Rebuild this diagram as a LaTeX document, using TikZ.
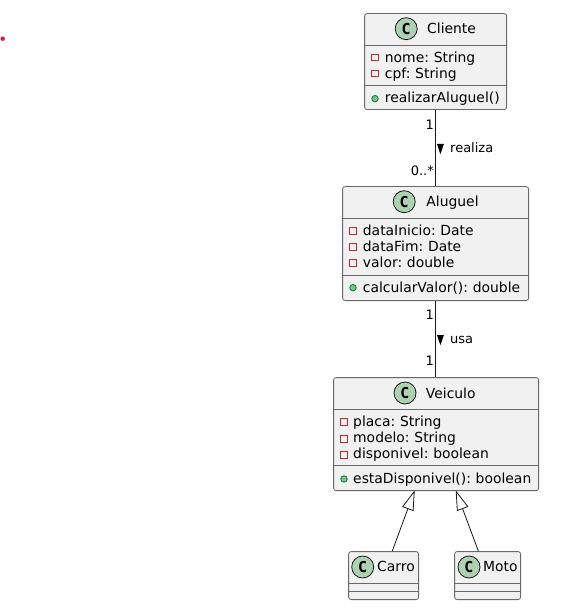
\documentclass[tikz,border=0pt]{standalone}
\usepackage{fontspec}
\setmainfont[WordSpace=0.75]{DejaVu Sans}
\newfontfamily\circfont{DejaVu Sans Mono}
\usetikzlibrary{arrows.meta}
\definecolor{boxfill}{HTML}{F1F1F1}
\definecolor{boxline}{HTML}{181818}
\definecolor{badge}{HTML}{ADD1B2}
\definecolor{privred}{HTML}{C82930}
\definecolor{pubfill}{HTML}{84BE84}
\definecolor{publine}{HTML}{038048}
\definecolor{dotred}{HTML}{E2143C}
\tikzset{
  x=1pt,y=-1pt,
  classbox/.style={draw=boxline!65,fill=boxfill,line width=0.8pt,rounded corners=2.5pt,inner sep=0pt,anchor=north west},
  sep/.style={draw=boxline!65,line width=0.8pt},
  badgec/.style={circle,draw=boxline,fill=badge,line width=0.8pt,minimum size=22pt,inner sep=0pt,font=\circfont\bfseries\fontsize{15}{15}\selectfont},
  title/.style={anchor=base west,inner sep=0pt,font=\fontsize{13.9}{14}\selectfont,text=black},
  mem/.style={anchor=base west,inner sep=0pt,font=\fontsize{13.9}{14}\selectfont,text=black},
  lab/.style={anchor=base west,inner sep=0pt,font=\fontsize{13}{13}\selectfont,text=black},
  mult/.style={anchor=base east,inner sep=0pt,font=\fontsize{13}{13}\selectfont,text=black},
  priv/.style={draw=privred,line width=0.9pt,minimum size=6.5pt,inner sep=0pt,rectangle},
  pub/.style={draw=publine,fill=pubfill,line width=0.8pt,circle,minimum size=6.5pt,inner sep=0pt},
  conn/.style={draw=boxline,line width=0.9pt},
  inherit/.style={draw=boxline,line width=0.8pt,-{Triangle[open,length=20pt,width=12pt,fill=white]}},
  dirmark/.style={fill=black,draw=none},
}
\begin{document}
\begin{tikzpicture}
\useasboundingbox (0.3,0.3) rectangle (567.3,612.3);
\fill[white] (0.3,0.3) rectangle (567.3,612.3);
\node[circle,fill=dotred,minimum size=4.4pt,inner sep=0pt] (dot) at (3,39) {};

% boxes
\node[classbox,minimum width=142pt,minimum height=96pt] (cliente) at (364.5,13.5) {};
\node[classbox,minimum width=186pt,minimum height=114pt] (aluguel) at (342.5,186.5) {};
\node[classbox,minimum width=205pt,minimum height=113pt] (veiculo) at (333.5,377.5) {};
\node[classbox,minimum width=70pt,minimum height=48pt] (carro) at (348.5,551.5) {};
\node[classbox,minimum width=66pt,minimum height=48pt] (moto) at (454.5,551.5) {};

\draw[conn] (cliente.south) -- (aluguel.north);
\draw[conn] (aluguel.south) -- (aluguel.south |- veiculo.north);

\coordinate (carroTop) at (392.5,551.5);
\coordinate (carroTip) at (415,490.5);
\coordinate (motoTop) at (478.7,551.5);
\coordinate (motoTip) at (456,490.5);
\draw[inherit] (carroTop) -- (carroTip);
\draw[inherit] (motoTop) -- (motoTip);

% separators
\draw[sep] (364.5,45.5) -- (506.5,45.5) (364.5,85.5) -- (506.5,85.5);
\draw[sep] (342.5,218.5) -- (528.5,218.5) (342.5,275.5) -- (528.5,275.5);
\draw[sep] (333.5,409.5) -- (538.5,409.5) (333.5,465.5) -- (538.5,465.5);
\draw[sep] (348.5,583.5) -- (418.5,583.5) (348.5,591.5) -- (418.5,591.5);
\draw[sep] (454.5,583.5) -- (520.5,583.5) (454.5,591.5) -- (520.5,591.5);

% Cliente
\node[badgec] (cC) at (406.5,29) {C};
\node[title] (tC) at (427.3,34) {Cliente};
\node[priv] (p1) at (375.3,58) {};
\node[mem] (m1) at (385,62.5) {nome: String};
\node[priv] (p2) at (375.3,74) {};
\node[mem] (m2) at (385,78.5) {cpf: String};
\node[pub] (p3) at (375.3,99) {};
\node[mem] (m3) at (385,103) {realizarAluguel()};

% Aluguel
\node[badgec] (cA) at (404.5,202) {C};
\node[title] (tA) at (426.5,207) {Aluguel};
\node[priv] (p4) at (353.3,231) {};
\node[mem] (m4) at (363,236) {dataInicio: Date};
\node[priv] (p5) at (353.3,247) {};
\node[mem] (m5) at (363,252) {dataFim: Date};
\node[priv] (p6) at (353.3,263) {};
\node[mem] (m6) at (363,268) {valor: double};
\node[pub] (p7) at (353.3,288) {};
\node[mem] (m7) at (363,293) {calcularValor(): double};

% Veiculo
\node[badgec] (cV) at (405.3,393.3) {C};
\node[title] (tV) at (426,398.3) {Veiculo};
\node[priv] (p8) at (344.3,422) {};
\node[mem] (m8) at (353.3,426.7) {placa: String};
\node[priv] (p9) at (344.3,439) {};
\node[mem] (m9) at (353.3,442.7) {modelo: String};
\node[priv] (p10) at (344.3,455) {};
\node[mem] (m10) at (353.3,459) {disponivel: boolean};
\node[pub] (p11) at (344.3,479.3) {};
\node[mem] (m11) at (353.3,483.3) {estaDisponivel(): boolean};

% Carro, Moto
\node[badgec] (cK) at (363,567.3) {C};
\node[title] (tK) at (377.3,572) {Carro};
\node[badgec] (cM) at (469.3,567.3) {C};
\node[title] (tM) at (483.3,572) {Moto};

% labels
\node[mult] (l1) at (434.3,130) {1};
\node[mult] (l2) at (434.3,175.7) {0..*};
\node[lab] (l3) at (450.3,152.7) {realiza};
\fill[dirmark] (437.2,144.3) -- (444.2,144.3) -- (440.7,154.5) -- cycle;
\node[mult] (l4) at (434.3,320) {1};
\node[mult] (l5) at (434.3,366) {1};
\node[lab] (l6) at (450.3,343.7) {usa};
\fill[dirmark] (437.2,335.3) -- (444.2,335.3) -- (440.7,345.5) -- cycle;
\end{tikzpicture}
\end{document}
